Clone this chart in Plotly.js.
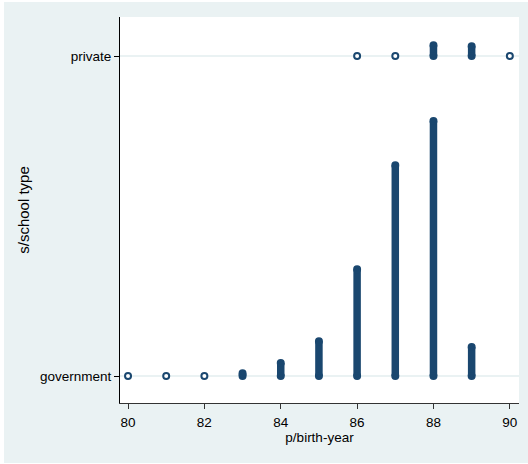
<!DOCTYPE html>
<html>
<head>
<meta charset="utf-8">
<script src="https://cdn.plot.ly/plotly-3.0.1.min.js"></script>
<style>
html,body{margin:0;padding:0;background:#ffffff;}
#chart{position:absolute;left:4px;top:2px;width:524px;height:461px;}
</style>
</head>
<body>
<div id="chart"></div>
<script>
// Birth years and the vertical extent (in y-units above the category line) of each stack of points
var govYears = [80, 81, 82, 83, 84, 85, 86, 87, 88, 89];
var govSpan  = [0, 0, 0, 0.009, 0.041, 0.109, 0.334, 0.659, 0.797, 0.091];
var privYears = [86, 87, 88, 89, 90];
var privSpan  = [0, 0, 0.034, 0.031, 0];
var categoryVals = [0, 1];
var categoryLabels = ['government', 'private'];
var xTicks = [80, 82, 84, 86, 88, 90];

var navy = '#1a476f';
var sans = '"Liberation Sans", Arial, sans-serif';

function build(years, spans, base) {
  var lx = [], ly = [], mx = [], my = [], mc = [];
  for (var i = 0; i < years.length; i++) {
    var lo = base, hi = base + spans[i];
    if (spans[i] > 0) {
      lx.push(years[i], years[i], null);
      ly.push(lo, hi, null);
      mx.push(years[i], years[i]);
      my.push(lo, hi);
      mc.push(navy, navy);
    } else {
      mx.push(years[i]);
      my.push(lo);
      mc.push('#ffffff');
    }
  }
  return {lx: lx, ly: ly, mx: mx, my: my, mc: mc};
}

var g = build(govYears, govSpan, categoryVals[0]);
var p = build(privYears, privSpan, categoryVals[1]);

var traces = [
  {x: g.lx.concat(p.lx), y: g.ly.concat(p.ly), mode: 'lines', type: 'scatter',
   line: {color: navy, width: 7.5}, hoverinfo: 'skip', showlegend: false},
  {x: g.mx.concat(p.mx), y: g.my.concat(p.my), mode: 'markers', type: 'scatter',
   marker: {symbol: 'circle', size: 6, color: g.mc.concat(p.mc), line: {color: navy, width: 2}},
   showlegend: false}
];

var layout = {
  width: 524, height: 461,
  paper_bgcolor: '#eaf2f3',
  plot_bgcolor: '#ffffff',
  margin: {l: 116, r: 9, t: 15, b: 60},
  font: {family: sans, size: 13.5, color: '#000000'},
  showlegend: false,
  xaxis: {
    range: [79.79, 90.24],
    tickvals: xTicks,
    ticks: 'outside', ticklen: 5, tickwidth: 1, tickcolor: '#333333',
    ticklabelstandoff: 2,
    showgrid: false, zeroline: false,
    showline: true, linecolor: '#333333', linewidth: 1,
    tickfont: {family: sans, size: 13.5},
    title: {text: 'p/birth-year', font: {family: sans, size: 13.5}, standoff: 2}
  },
  yaxis: {
    range: [-0.084, 1.122],
    tickvals: categoryVals,
    ticktext: categoryLabels,
    ticks: 'outside', ticklen: 5, tickwidth: 1, tickcolor: '#000000',
    showgrid: true, gridcolor: '#eaf2f3', gridwidth: 1.5,
    zeroline: false,
    showline: true, linecolor: '#000000', linewidth: 1,
    tickfont: {family: sans, size: 13.5},
    title: {text: 's/school type', font: {family: sans, size: 15}, standoff: 6}
  }
};

Plotly.newPlot('chart', traces, layout, {displayModeBar: false, staticPlot: true});
</script>
</body>
</html>
